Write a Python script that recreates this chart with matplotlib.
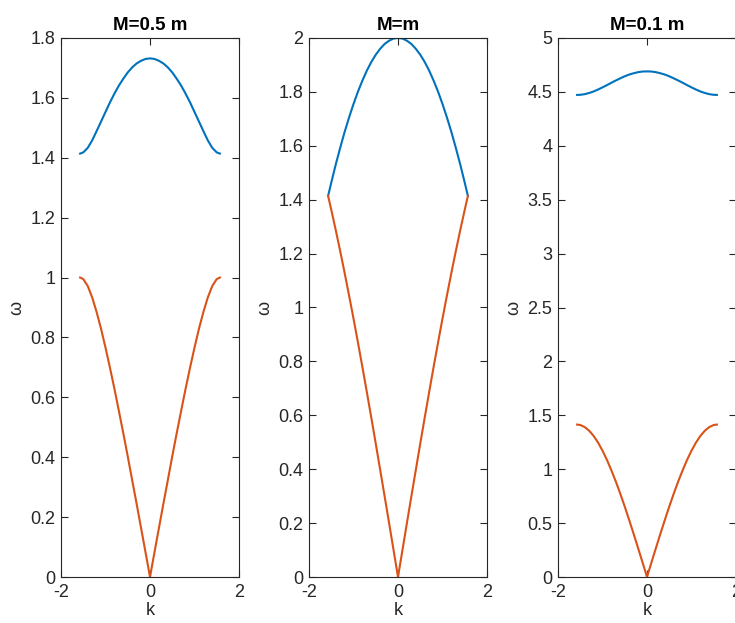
import matplotlib.pyplot as plt
from matplotlib.ticker import MultipleLocator

plt.rcParams['font.family'] = ['Liberation Sans', 'DejaVu Sans']
plt.rcParams['axes.unicode_minus'] = False

# wave number samples (-pi/2 .. pi/2)
k = [-1.5708, -1.5, -1.4, -1.3, -1.2, -1.1, -1.0, -0.9, -0.8, -0.7, -0.6,
     -0.5, -0.4, -0.3, -0.2, -0.1, 0.0, 0.1, 0.2, 0.3, 0.4, 0.5, 0.6,
     0.7, 0.8, 0.9, 1.0, 1.1, 1.2, 1.3, 1.4, 1.5, 1.5708]

# M = 0.5 m
opt1 = [1.414, 1.418, 1.433, 1.458, 1.489, 1.521, 1.553, 1.585, 1.614, 1.641, 1.664,
        1.685, 1.702, 1.715, 1.724, 1.730, 1.732, 1.730, 1.724, 1.715, 1.702, 1.685,
        1.664, 1.641, 1.614, 1.585, 1.553, 1.521, 1.489, 1.458, 1.433, 1.418, 1.414]
ac1 = [1.000, 0.995, 0.972, 0.934, 0.885, 0.829, 0.766, 0.699, 0.629, 0.555, 0.480,
       0.403, 0.323, 0.244, 0.163, 0.082, 0.000, 0.082, 0.163, 0.244, 0.323, 0.403,
       0.480, 0.555, 0.629, 0.699, 0.766, 0.829, 0.885, 0.934, 0.972, 0.995, 1.000]

# M = m
opt2 = [1.414, 1.463, 1.530, 1.592, 1.651, 1.705, 1.755, 1.801, 1.842, 1.879, 1.911,
        1.938, 1.960, 1.978, 1.990, 1.998, 2.000, 1.998, 1.990, 1.978, 1.960, 1.938,
        1.911, 1.879, 1.842, 1.801, 1.755, 1.705, 1.651, 1.592, 1.530, 1.463, 1.414]
ac2 = [1.414, 1.363, 1.288, 1.210, 1.129, 1.045, 0.959, 0.870, 0.779, 0.686, 0.591,
       0.495, 0.397, 0.299, 0.200, 0.100, 0.000, 0.100, 0.200, 0.299, 0.397, 0.495,
       0.591, 0.686, 0.779, 0.870, 0.959, 1.045, 1.129, 1.210, 1.288, 1.363, 1.414]

# M = 0.1 m
opt3 = [4.472, 4.473, 4.479, 4.490, 4.504, 4.522, 4.542, 4.563, 4.585, 4.606, 4.626,
        4.645, 4.661, 4.673, 4.683, 4.689, 4.690, 4.689, 4.683, 4.673, 4.661, 4.645,
        4.626, 4.606, 4.585, 4.563, 4.542, 4.522, 4.504, 4.490, 4.479, 4.473, 4.472]
ac3 = [1.414, 1.410, 1.391, 1.357, 1.309, 1.247, 1.172, 1.086, 0.989, 0.885, 0.772,
       0.653, 0.528, 0.400, 0.268, 0.135, 0.000, 0.135, 0.268, 0.400, 0.528, 0.653,
       0.772, 0.885, 0.989, 1.086, 1.172, 1.247, 1.309, 1.357, 1.391, 1.410, 1.414]

titles = ['M=0.5 m', 'M=m', 'M=0.1 m']
ylims = [1.8, 2, 5]
ysteps = [0.2, 0.2, 0.5]
lefts = [61, 309, 558]

blue = '#0072BD'
orange = '#D95319'
dark = '#262626'

fig = plt.figure(figsize=(7.35, 6.23), dpi=100)
W, H = 735.0, 623.0

for i, (opt, ac) in enumerate([(opt1, ac1), (opt2, ac2), (opt3, ac3)]):
    ax = fig.add_axes([lefts[i] / W, 1 - 577 / H, 178 / W, 539 / H])
    ax.plot(k, opt, color=blue, lw=1.5)
    ax.plot(k, ac, color=orange, lw=1.5)
    ax.set_xlim(-2, 2)
    ax.set_ylim(0, ylims[i])
    ax.set_xticks([-2, 0, 2])
    ax.yaxis.set_major_locator(MultipleLocator(ysteps[i]))
    ax.yaxis.set_major_formatter(plt.FuncFormatter(lambda v, p: '%g' % round(v, 2)))
    ax.tick_params(direction='in', length=5, width=0.8, colors=dark,
                   labelsize=13, top=True, right=True)
    ax.tick_params(axis='x', pad=5)
    ax.tick_params(axis='y', pad=4)
    for s in ax.spines.values():
        s.set_color(dark)
        s.set_linewidth(0.8)
    ax.set_title(titles[i], fontsize=13.5, fontweight='bold', color='black', pad=6)
    ax.set_xlabel('k', fontsize=13, color=dark, labelpad=1)
    ax.set_ylabel('ω', fontsize=13, color=dark, labelpad=4)

fig.savefig('out.png', dpi=100)
